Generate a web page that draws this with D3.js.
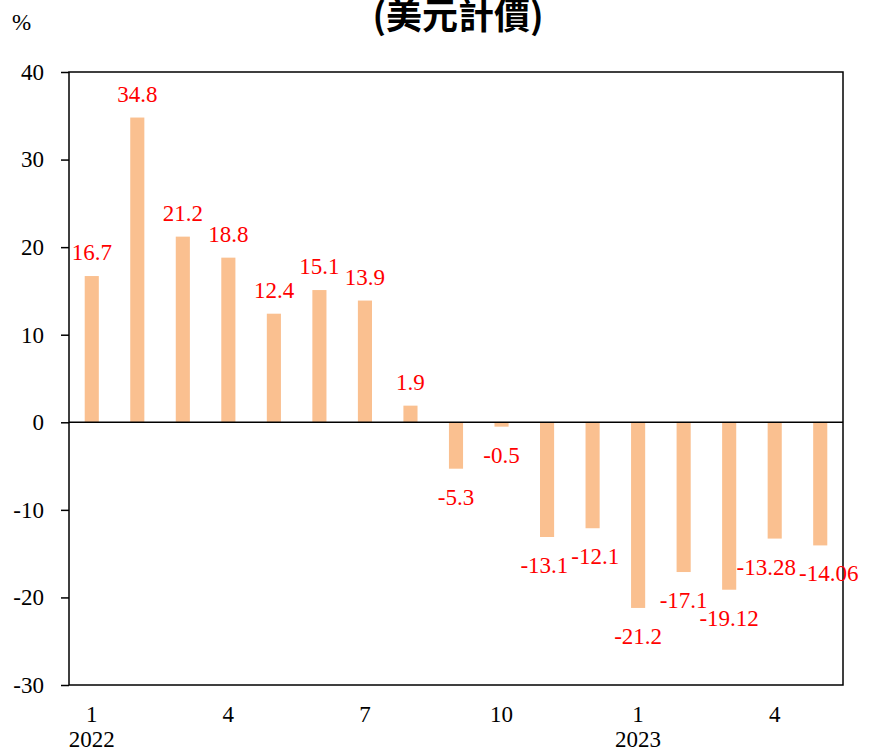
<!DOCTYPE html>
<html>
<head>
<meta charset="utf-8">
<script src="https://cdn.jsdelivr.net/npm/d3@7"></script>
<style>
  html, body { margin: 0; padding: 0; background: #fff; }
  svg { display: block; }
  .serif { font-family: "Liberation Serif", "Times New Roman", "DejaVu Serif", serif; }
</style>
</head>
<body>
<script>
// Monthly year-over-year change (%), Jan 2022 – May 2023
const months = ["2022-01","2022-02","2022-03","2022-04","2022-05","2022-06","2022-07","2022-08","2022-09","2022-10","2022-11","2022-12","2023-01","2023-02","2023-03","2023-04","2023-05"];
const values = [16.7, 34.8, 21.2, 18.8, 12.4, 15.1, 13.9, 1.9, -5.3, -0.5, -13.1, -12.1, -21.2, -17.1, -19.12, -13.28, -14.06];
const valueLabels = ["16.7","34.8","21.2","18.8","12.4","15.1","13.9","1.9","-5.3","-0.5","-13.1","-12.1","-21.2","-17.1","-19.12","-13.28","-14.06"];
const monthTickLabels = ["1","","","4","","","7","","","10","","","1","","","4",""];
const yearLabels = [{ at: "2022-01", text: "2022" }, { at: "2023-01", text: "2023" }];
const yTicks = [-30, -20, -10, 0, 10, 20, 30, 40];
const title = "(美元計價)";
const unit = "%";

const W = 869, H = 751;
const m = { left: 69, right: 26, top: 72, bottom: 66 };
const fs = 23;

const svg = d3.select("body").append("svg").attr("width", W).attr("height", H);

const x = d3.scaleBand().domain(months).range([m.left, W - m.right]).paddingInner(0.69).paddingOuter(0.345);
const y = d3.scaleLinear().domain([-30, 40]).range([H - m.bottom, m.top]);

// Title (top runs up to the page edge)
svg.append("text")
  .attr("x", 458).attr("y", 29)
  .attr("text-anchor", "middle")
  .style("font-family", "'Noto Sans CJK TC', sans-serif")
  .style("font-weight", "bold")
  .style("font-size", "36px")
  .text(title);

svg.append("text")
  .attr("class", "serif")
  .attr("x", 12).attr("y", 30)
  .style("font-size", fs + "px")
  .text(unit);

// Bars
svg.append("g").selectAll("rect").data(values).join("rect")
  .attr("x", (d, i) => x(months[i]))
  .attr("width", x.bandwidth())
  .attr("y", d => y(Math.max(0, d)))
  .attr("height", d => Math.abs(y(d) - y(0)))
  .attr("fill", "#FAC090");

// Zero line
svg.append("line")
  .attr("x1", m.left).attr("x2", W - m.right)
  .attr("y1", y(0)).attr("y2", y(0))
  .attr("stroke", "#000").attr("stroke-width", 1.5);

// Plot frame
svg.append("rect")
  .attr("x", m.left).attr("y", m.top)
  .attr("width", W - m.left - m.right).attr("height", H - m.top - m.bottom)
  .attr("fill", "none").attr("stroke", "#000").attr("stroke-width", 1.5);

// Y axis
const yAxis = svg.append("g")
  .attr("transform", `translate(${m.left},0)`)
  .call(d3.axisLeft(y).tickValues(yTicks).tickSize(8).tickPadding(17).tickFormat(d => String(d)));
yAxis.attr("font-family", null).attr("font-size", null);
yAxis.select(".domain").remove();
yAxis.selectAll("line").attr("stroke", "#000").attr("stroke-width", 1.5);
yAxis.selectAll("text").attr("class", "serif").style("font-size", fs + "px").attr("fill", "#000");

// X axis: month labels and year labels
const xAxis = svg.append("g")
  .attr("transform", `translate(0,${H - m.bottom})`)
  .call(d3.axisBottom(x).tickSize(0).tickPadding(21).tickFormat((d, i) => monthTickLabels[i]));
xAxis.attr("font-family", null).attr("font-size", null);
xAxis.select(".domain").remove();
xAxis.selectAll("text").attr("class", "serif").style("font-size", fs + "px").attr("fill", "#000");

svg.append("g").selectAll("text").data(yearLabels).join("text")
  .attr("class", "serif")
  .attr("x", d => x(d.at) + x.bandwidth() / 2)
  .attr("y", 747)
  .attr("text-anchor", "middle")
  .style("font-size", fs + "px")
  .text(d => d.text);

// Value labels, centred on their bars
const labels = svg.append("g").selectAll("text").data(values).join("text")
  .attr("class", "serif")
  .attr("x", (d, i) => x(months[i]) + x.bandwidth() / 2)
  .attr("y", d => d >= 0 ? y(d) - 16 : y(d) + 36)
  .attr("text-anchor", "middle")
  .style("font-size", fs + "px")
  .attr("fill", "#FF0000")
  .text((d, i) => valueLabels[i]);

// Push neighbouring labels apart horizontally when they sit on nearly the same line
const nodes = labels.nodes();
const boxes = nodes.map(n => n.getBBox());
const cx = boxes.map(b => b.x + b.width / 2);
for (let i = 1; i < nodes.length; i++) {
  const a = boxes[i - 1], b = boxes[i];
  const sameLine = Math.abs(a.y - b.y) < 0.5 * a.height;
  const gap = 3;
  const need = (a.width + b.width) / 2 + gap - (cx[i] - cx[i - 1]);
  if (sameLine && need > 0) {
    cx[i - 1] -= need / 2;
    cx[i] += need / 2;
  }
}
labels.attr("x", (d, i) => cx[i]);
</script>
</body>
</html>
